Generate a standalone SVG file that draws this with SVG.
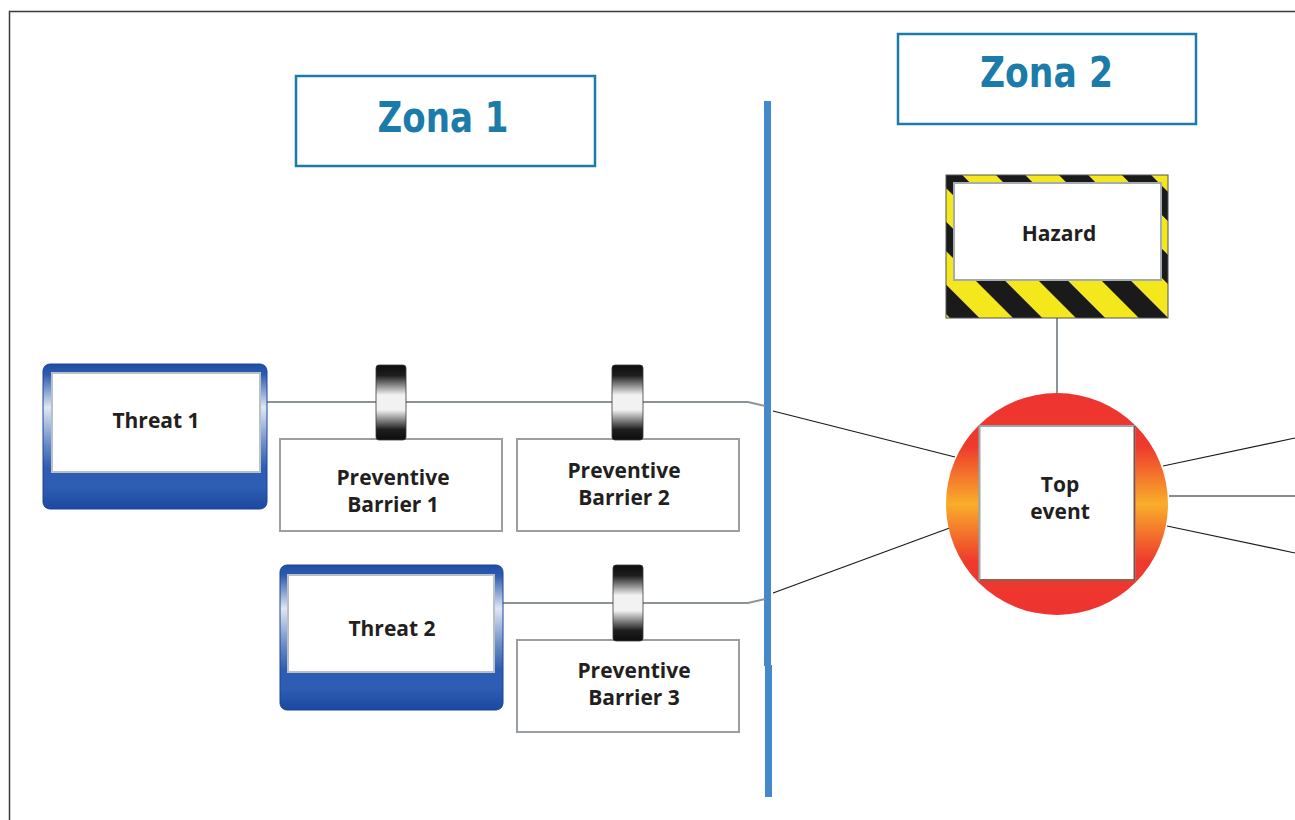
<svg xmlns="http://www.w3.org/2000/svg" width="1295" height="820" viewBox="0 0 1295 820">
  <defs>
    <style>
      .zone-box { fill: #ffffff; stroke: #1b7bab; stroke-width: 2.5; }
      .zone-text { font-family: "DejaVu Sans", Verdana, sans-serif; font-weight: bold; font-size: 43px; fill: #1b7ba9; text-anchor: middle; }
      .label { font-family: "Open Sans", "Noto Sans", "DejaVu Sans", sans-serif; font-weight: bold; font-size: 21px; fill: #231f20; text-anchor: middle; }
      .barrier-box { fill: #ffffff; stroke: #9a9fa3; stroke-width: 2; }
      .inner-white { fill: #ffffff; stroke: #b9c0c6; stroke-width: 2; }
      .wire { fill: none; stroke: #8c9397; stroke-width: 2; }
      .link { fill: none; stroke: #1a1a1a; stroke-width: 1.2; }
      .pad { fill: url(#pad); stroke: #3a3a3a; stroke-width: 0.8; }
    </style>
    <!-- blue threat frame: dark bands top/bottom, pale glow along the sides -->
    <linearGradient id="threatFrame" x1="0" y1="0" x2="0" y2="1">
      <stop offset="0" stop-color="#1f4fa4"/>
      <stop offset="0.07" stop-color="#2b5aae"/>
      <stop offset="0.3" stop-color="#dfe7f4"/>
      <stop offset="0.55" stop-color="#6a8cc8"/>
      <stop offset="0.72" stop-color="#2c5db2"/>
      <stop offset="0.85" stop-color="#2d5eb3"/>
      <stop offset="1" stop-color="#1c48a0"/>
    </linearGradient>
    <!-- barrier pad: black-white-black cylinder look -->
    <linearGradient id="pad" x1="0" y1="0" x2="0" y2="1">
      <stop offset="0" stop-color="#0d0d0d"/>
      <stop offset="0.14" stop-color="#1e1e1e"/>
      <stop offset="0.4" stop-color="#f2f2f2"/>
      <stop offset="0.6" stop-color="#f2f2f2"/>
      <stop offset="0.86" stop-color="#1e1e1e"/>
      <stop offset="1" stop-color="#0d0d0d"/>
    </linearGradient>
    <!-- top event disc: red with an orange-yellow middle band -->
    <linearGradient id="fire" x1="0" y1="0" x2="0" y2="1">
      <stop offset="0" stop-color="#ee3330"/>
      <stop offset="0.24" stop-color="#ee3a2d"/>
      <stop offset="0.5" stop-color="#f9ae2a"/>
      <stop offset="0.76" stop-color="#ee3a2d"/>
      <stop offset="1" stop-color="#ee3330"/>
    </linearGradient>
    <!-- hazard warning stripes -->
    <pattern id="hazardStripes" patternUnits="userSpaceOnUse" width="44.5" height="44.5" patternTransform="translate(975,280) rotate(-45)">
      <rect x="0" y="0" width="21" height="44.5" fill="#1a1a1a"/>
      <rect x="21" y="0" width="23.5" height="44.5" fill="#f4e81c"/>
    </pattern>
  </defs>

  <rect width="1295" height="820" fill="#ffffff"/>
  <!-- outer frame -->
  <rect x="9.5" y="11.5" width="1400" height="900" fill="none" stroke="#3a3a3a" stroke-width="1.5"/>

  <!-- zone divider -->
  <g id="divider">
    <rect x="764" y="101" width="7" height="565" fill="#4589cc"/>
    <rect x="765" y="665" width="7" height="132" fill="#4589cc"/>
  </g>

  <!-- connectors -->
  <g id="connectors">
    <path class="wire" d="M267,402 L748,402 L765,406"/>
    <path class="wire" d="M503,603 L748,603 L765,599"/>
    <line class="wire" x1="1057" y1="318" x2="1057" y2="393"/>
    <line class="link" x1="773" y1="411" x2="955" y2="457"/>
    <line class="link" x1="773" y1="593" x2="955" y2="526"/>
    <line class="link" x1="1163" y1="466" x2="1295" y2="438"/>
    <line class="link" x1="1169" y1="496" x2="1295" y2="496"/>
    <line class="link" x1="1167" y1="526" x2="1295" y2="553"/>
  </g>

  <g id="zona1">
    <rect class="zone-box" x="296" y="76" width="299" height="90"/>
    <text class="zone-text" x="443" y="132" textLength="131" lengthAdjust="spacingAndGlyphs">Zona 1</text>
  </g>

  <g id="zona2">
    <rect class="zone-box" x="898" y="34" width="298" height="90"/>
    <text class="zone-text" x="1046.5" y="87" textLength="133" lengthAdjust="spacingAndGlyphs">Zona 2</text>
  </g>

  <g id="threat1">
    <rect x="43" y="364" width="224" height="145" rx="7" fill="url(#threatFrame)" stroke="#1d4596" stroke-width="1"/>
    <rect class="inner-white" x="52" y="373" width="208" height="99"/>
    <text class="label" x="156" y="428">Threat 1</text>
  </g>

  <g id="threat2">
    <rect x="280" y="565" width="223" height="145" rx="7" fill="url(#threatFrame)" stroke="#1d4596" stroke-width="1"/>
    <rect class="inner-white" x="288" y="575" width="206" height="97"/>
    <text class="label" x="392" y="636">Threat 2</text>
  </g>

  <g id="barrier1">
    <rect class="barrier-box" x="280" y="439" width="222" height="92"/>
    <rect class="pad" x="376" y="365" width="30" height="75" rx="3"/>
    <text class="label" x="393" y="485">Preventive</text>
    <text class="label" x="393" y="512">Barrier 1</text>
  </g>

  <g id="barrier2">
    <rect class="barrier-box" x="517" y="439" width="222" height="92"/>
    <rect class="pad" x="612" y="365" width="31" height="75" rx="3"/>
    <text class="label" x="624" y="478">Preventive</text>
    <text class="label" x="624" y="505">Barrier 2</text>
  </g>

  <g id="barrier3">
    <rect class="barrier-box" x="517" y="640" width="222" height="92"/>
    <rect class="pad" x="613" y="565" width="30" height="76" rx="3"/>
    <text class="label" x="634" y="678">Preventive</text>
    <text class="label" x="634" y="705">Barrier 3</text>
  </g>

  <g id="hazard">
    <rect x="946" y="175" width="222" height="143" fill="url(#hazardStripes)" stroke="#555555" stroke-width="1"/>
    <rect x="954" y="183" width="207" height="97" fill="#ffffff" stroke="#a4acb1" stroke-width="2"/>
    <text class="label" x="1059" y="241">Hazard</text>
  </g>

  <g id="top-event">
    <circle cx="1057" cy="504" r="111" fill="url(#fire)"/>
    <rect x="979.5" y="426" width="155" height="154" fill="#ffffff" stroke="#9aa6ad" stroke-width="2"/>
    <path d="M1134.5,426 V580 H979.5" fill="none" stroke="#8a4a3a" stroke-width="1.5"/>
    <text class="label" x="1060" y="492">Top</text>
    <text class="label" x="1060" y="519">event</text>
  </g>
</svg>
